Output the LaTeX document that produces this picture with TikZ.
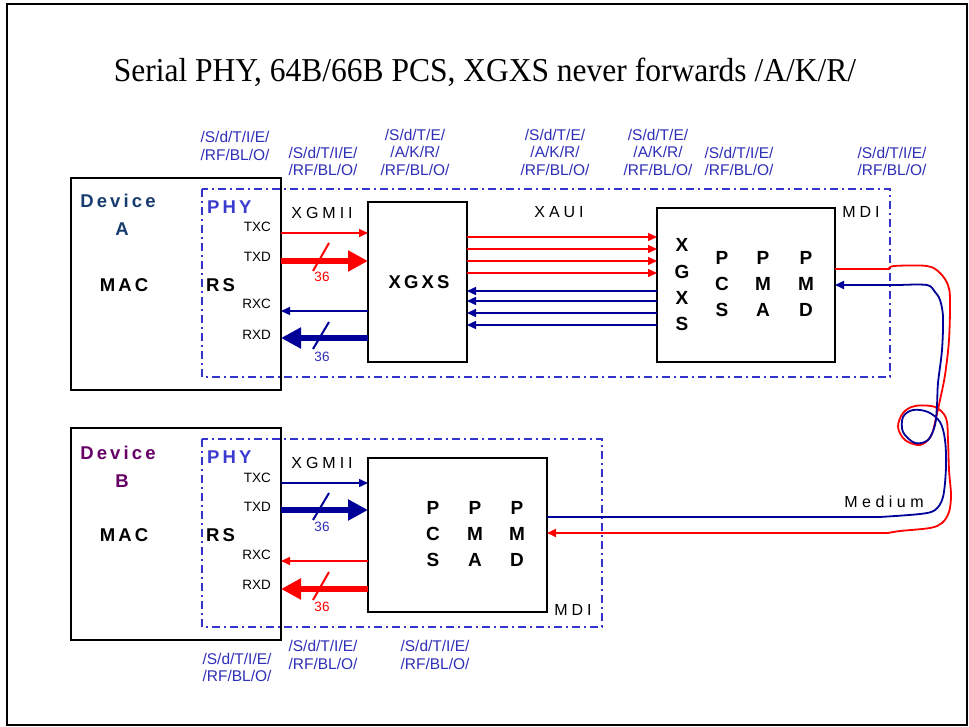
\documentclass[tikz,border=0pt]{standalone}
\usepackage{fontspec}
\setmainfont{Liberation Sans}
\newfontfamily\titlefont{Liberation Serif}
\newfontfamily\spacedreg[LetterSpace=25]{Liberation Sans}
\newfontfamily\spacedbold[LetterSpace=17]{Liberation Sans}
\newfontfamily\spacedmed[LetterSpace=28]{Liberation Sans}
\usetikzlibrary{arrows.meta}
\definecolor{myNavy}{HTML}{000099}
\definecolor{lblBlue}{HTML}{2F2FB8}
\definecolor{phyBlue}{HTML}{3B3BD0}
\definecolor{dashBlue}{HTML}{3434CC}
\definecolor{devAcol}{HTML}{173C6E}
\definecolor{devBcol}{HTML}{660066}
\definecolor{myRed}{HTML}{FF0000}
\tikzset{
  box/.style={draw, line width=2pt, rectangle, inner sep=0pt, outer sep=0pt},
  phybox/.style={draw=dashBlue, line width=1.6pt, dash pattern=on 8pt off 4pt on 2pt off 4pt},
  lbl/.style={font=\fontsize{15.5}{17.5}\selectfont, text=lblBlue, align=center, inner sep=0pt},
  sig/.style={font=\fontsize{13.5}{16}\selectfont, anchor=east, inner sep=0pt},
  num/.style={font=\fontsize{13.5}{16}\selectfont, inner sep=0pt},
  bus/.style={font=\spacedreg\fontsize{16}{18}\selectfont, inner sep=0pt},
  big/.style={font=\spacedbold\bfseries\fontsize{18.5}{22}\selectfont, inner sep=0pt},
  stack/.style={font=\bfseries\fontsize{19}{26.3}\selectfont, align=center, inner sep=0pt},
  thinred/.style={draw=myRed, line width=1.5pt, -{Triangle[length=9pt,width=8pt]}},
  thinblue/.style={draw=myNavy, line width=1.5pt, -{Triangle[length=9pt,width=8pt]}},
  thickred/.style={draw=myRed, line width=6pt, -{Triangle[length=20pt,width=20pt]}},
  thickblue/.style={draw=myNavy, line width=6pt, -{Triangle[length=20pt,width=20pt]}},
  slashred/.style={draw=myRed, line width=2pt},
  slashblue/.style={draw=myNavy, line width=2pt},
  cable/.style={line width=1.8pt},
}
\begin{document}
\begin{tikzpicture}[x=1pt,y=-1pt]
\useasboundingbox (0,0) rectangle (969,727);
\fill[white] (0,0) rectangle (969,727);
\draw[line width=2pt] (7,4) rectangle (967,725);

\node[font=\titlefont\fontsize{31.5}{36}\selectfont, inner sep=0pt, anchor=base] (title) at (485,82) {\scalebox{1}[1.06]{Serial PHY, 64B/66B PCS, XGXS never forwards /A/K/R/}};

% PHY boxes
\draw[phybox] (202,189) rectangle (890,377);
\draw[phybox] (202,439) rectangle (602,627);

% boxes
\node[box, minimum width=210pt, minimum height=212pt] (devA) at (176,284) {};
\node[box, minimum width=99pt, minimum height=160pt] (xgxs) at (417.5,282) {};
\node[box, minimum width=178pt, minimum height=154pt] (pcsA) at (746,285) {};
\node[box, minimum width=210pt, minimum height=212pt] (devB) at (176,534) {};
\node[box, minimum width=179pt, minimum height=154pt] (pcsB) at (457.5,535) {};

% Device A texts
\node[big, text=devAcol] (devAt) at (118,201) {Device};
\node[big, text=devAcol] (devAl) at (122,229) {A};
\node[big] (macA) at (124,285) {MAC};
\node[big, text=phyBlue, anchor=west] (phyA) at (207,207) {PHY};
\node[big, anchor=west] (rsA) at (206,285) {RS};
\node[sig] (txcA) at (271,227) {TXC};
\node[sig] (txdA) at (271,257) {TXD};
\node[sig] (rxcA) at (271,304) {RXC};
\node[sig] (rxdA) at (271,335) {RXD};
\node[bus] (xgmiiA) at (322,213) {XGMII};
\node[big] (xgxst) at (419,282) {XGXS};
\node[bus] (xaui) at (559,212) {XAUI};
\node[bus] (mdiA) at (861,212) {MDI};

\node[stack] (sxgxs) at (682,285) {X\\G\\X\\S};
\node[stack] (spcsA) at (722,284) {P\\C\\S};
\node[stack] (spmaA) at (763,284) {P\\M\\A};
\node[stack] (spmdA) at (806,284) {P\\M\\D};

% Device A signals
\draw[thinred] (devA.east |- 0,233) -- (xgxs.west |- 0,233);
\draw[thickred] (devA.east |- 0,261) -- (xgxs.west |- 0,261);
\draw[thinblue] (xgxs.west |- 0,311) -- (devA.east |- 0,311);
\draw[thickblue] (xgxs.west |- 0,338) -- (devA.east |- 0,338);
\draw[slashred] (313,271) -- (329,243);
\draw[slashblue] (313,349) -- (329,322);
\node[num, text=myRed] (n36a) at (322,277) {36};
\node[num, text=lblBlue] (n36b) at (322,357) {36};

% XAUI lanes
\foreach \yy in {237,249,261,273}
  \draw[thinred] (xgxs.east |- 0,\yy) -- (pcsA.west |- 0,\yy);
\foreach \yy in {291,301,313,325}
  \draw[thinblue] (pcsA.west |- 0,\yy) -- (xgxs.east |- 0,\yy);

% Device B texts
\node[big, text=devBcol] (devBt) at (118,453) {Device};
\node[big, text=devBcol] (devBl) at (122,481) {B};
\node[big] (macB) at (124,535) {MAC};
\node[big, text=phyBlue, anchor=west] (phyB) at (207,457) {PHY};
\node[big, anchor=west] (rsB) at (206,535) {RS};
\node[sig] (txcB) at (271,478) {TXC};
\node[sig] (txdB) at (271,507) {TXD};
\node[sig] (rxcB) at (271,555) {RXC};
\node[sig] (rxdB) at (271,585) {RXD};
\node[bus] (xgmiiB) at (322,463) {XGMII};
\node[bus] (mdiB) at (573,610) {MDI};

\node[stack] (spcsB) at (433,534) {P\\C\\S};
\node[stack] (spmaB) at (475,534) {P\\M\\A};
\node[stack] (spmdB) at (517,534) {P\\M\\D};

\draw[thinblue] (devB.east |- 0,483) -- (pcsB.west |- 0,483);
\draw[thickblue] (devB.east |- 0,510) -- (pcsB.west |- 0,510);
\draw[thinred] (pcsB.west |- 0,561) -- (devB.east |- 0,561);
\draw[thickred] (pcsB.west |- 0,589) -- (devB.east |- 0,589);
\draw[slashblue] (313,520) -- (329,493);
\draw[slashred] (313,600) -- (329,572);
\node[num, text=lblBlue] (n36c) at (322,527) {36};
\node[num, text=myRed] (n36d) at (322,607) {36};

% Medium cable
\draw[cable, draw=myRed, -{Triangle[length=9pt,width=8pt]}] (pcsA.east |- 0,269) -- (889,269)
  -- plot[smooth, tension=0.55] coordinates {(889,269) (894,266) (927,266) (940,273) (948,285) (950,300) (949,340) (945,375) (940,400) (936,418) (931,436) (920,445) (905,440) (898,427) (903,413) (915,406) (935,407) (946,418) (948,440) (949,470) (951,495) (949,512) (942,523) (930,528) (900,531) (888,533)}
  -- (pcsB.east |- 0,533);
\draw[cable, draw=myNavy, -{Triangle[length=9pt,width=8pt]}] (pcsB.east |- 0,517) -- (880,517)
  -- plot[smooth, tension=0.55] coordinates {(880,517) (920,514) (935,510) (943,497) (946,467) (945,440) (940,422) (928,412) (913,410) (903,417) (903,432) (915,443) (928,440) (935,425) (937,405) (938,383) (942,350) (943,317) (940,300) (935,292) (927,285) (900,285)}
  -- (pcsA.east |- 0,285);
\node[font=\spacedmed\fontsize{16}{18}\selectfont, inner sep=0pt] (medium) at (884,502) {Medium};

% ordered set labels
\node[lbl] (l1) at (235,146) {/S/d/T/I/E/\\/RF/BL/O/};
\node[lbl] (l2) at (323,161.5) {/S/d/T/I/E/\\/RF/BL/O/};
\node[lbl] (l3) at (415,152) {/S/d/T/E/\\/A/K/R/\\/RF/BL/O/};
\node[lbl] (l4) at (555,152) {/S/d/T/E/\\/A/K/R/\\/RF/BL/O/};
\node[lbl] (l5) at (658,152) {/S/d/T/E/\\/A/K/R/\\/RF/BL/O/};
\node[lbl] (l6) at (739,161.5) {/S/d/T/I/E/\\/RF/BL/O/};
\node[lbl] (l7) at (892,161.5) {/S/d/T/I/E/\\/RF/BL/O/};
\node[lbl] (b1) at (237,667.5) {/S/d/T/I/E/\\/RF/BL/O/};
\node[lbl] (b2) at (323,655) {/S/d/T/I/E/\\/RF/BL/O/};
\node[lbl] (b3) at (435,655) {/S/d/T/I/E/\\/RF/BL/O/};
\end{tikzpicture}
\end{document}
